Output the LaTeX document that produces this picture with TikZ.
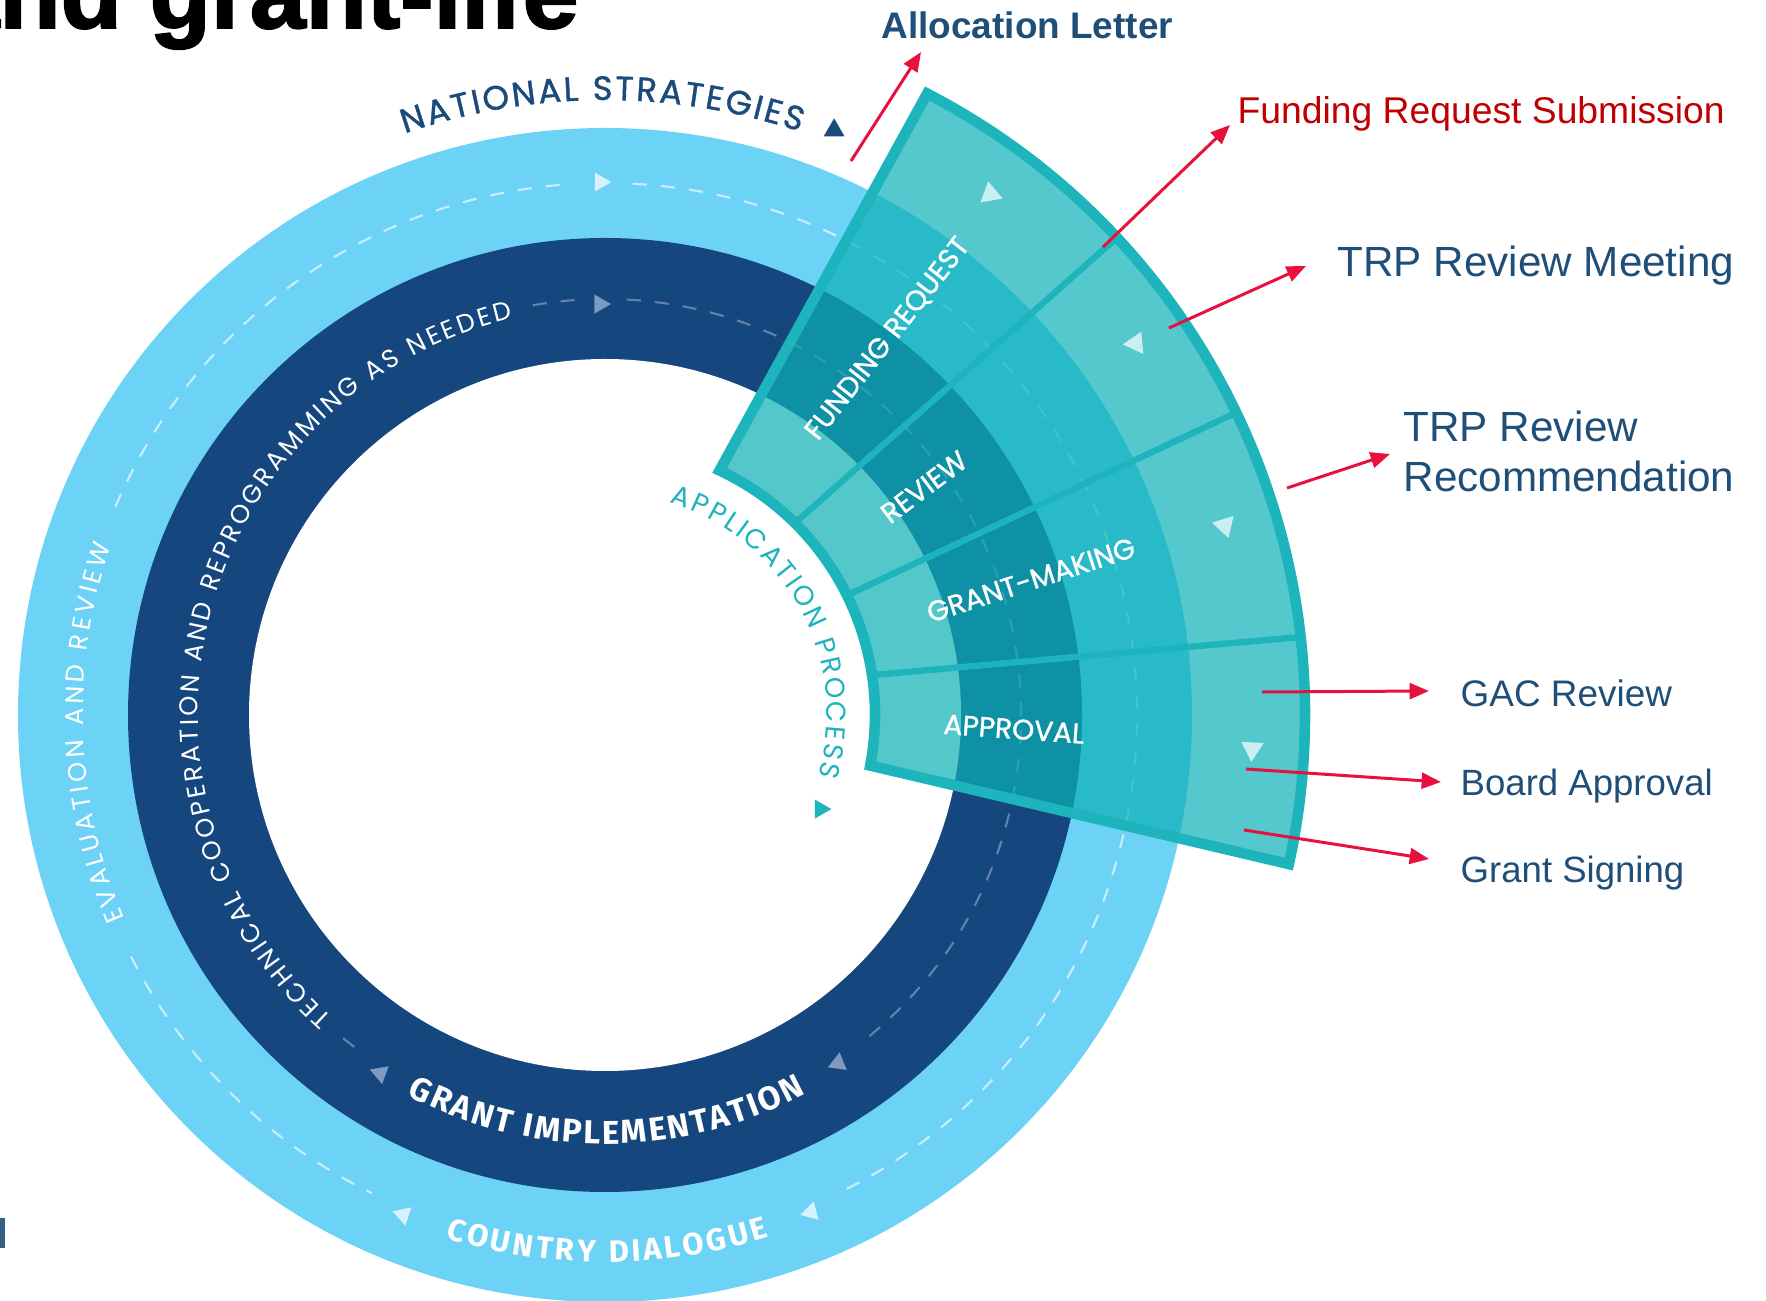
\documentclass[tikz,border=0pt]{standalone}
\usepackage{fontspec}
\setmainfont{Liberation Sans}
\newfontfamily\ringfont{Poppins}
\newfontfamily\medfont[FakeBold=1.2]{Poppins}
\newfontfamily\dinfont{Fira Sans}
\newfontfamily\headfont[FakeBold=2]{Liberation Sans Bold}
\usetikzlibrary{positioning,shapes,calc,arrows.meta,decorations.text}
\definecolor{ringsky}{HTML}{6DD3F6}
\definecolor{ringnavy}{HTML}{15467E}
\definecolor{skydash}{HTML}{C9EEFB}
\definecolor{navydash}{HTML}{6482AC}
\definecolor{skymark}{HTML}{D6F2FC}
\definecolor{navymark}{HTML}{8099BE}
\definecolor{fanteal}{HTML}{0CB0B6}
\definecolor{fanedge}{HTML}{1DB4BC}
\definecolor{fanmark}{HTML}{CBEFF1}
\definecolor{labelnavy}{HTML}{1B4A7C}
\definecolor{apteal}{HTML}{1EB4BC}
\definecolor{calloutblue}{HTML}{1F4E79}
\definecolor{calloutred}{HTML}{C00000}
\definecolor{arrowred}{HTML}{E8113D}
\newcommand{\nsfont}{\medfont\fontsize{9.6pt}{11pt}\selectfont}
\newcommand{\thinfont}{\ringfont\fontsize{7.3pt}{9pt}\selectfont}
\newcommand{\apfont}{\ringfont\fontsize{7.8pt}{9pt}\selectfont}
\newcommand{\implfont}{\dinfont\bfseries\fontsize{9.4pt}{11pt}\selectfont}
\newcommand{\dialfont}{\dinfont\bfseries\fontsize{8.8pt}{10pt}\selectfont}
% angle, radius, apex direction, size, colour
\newcommand{\ringmark}[5]{\fill[#5] ($(O)+(#1:#2)+(#3:#4)$) -- ($(O)+(#1:#2)+(#3+120:#4)$) -- ($(O)+(#1:#2)+(#3+240:#4)$) -- cycle;}
% radius, start, end, font, colour, text
\newcommand{\arclabel}[6]{\path[decorate,decoration={text along path,text align=fit to path,text color=#5,text={|#4|#6}}] ($(O)+(#2:#1)$) arc[start angle=#2,end angle=#3,radius=#1];}

\begin{document}
\begin{tikzpicture}[x=0.01cm,y=0.01cm]
    \tikzstyle{callout} = [font=\fontsize{10.5pt}{12.6pt}\selectfont,text=calloutblue,anchor=west,inner sep=0pt]
    \tikzstyle{stage} = [font=\medfont\fontsize{8pt}{9pt}\selectfont,text=white,inner sep=0pt]
    \tikzstyle{pointer} = [draw=arrowred,line width=0.85pt,-{Triangle[length=5.5pt,width=4.5pt]}]
    \tikzstyle{skyline} = [draw=skydash,line width=0.6pt,dash pattern=on 4pt off 4pt]
    \tikzstyle{navyline} = [draw=navydash,line width=0.6pt,dash pattern=on 4pt off 4pt]
    \useasboundingbox (0,-1301) rectangle (1766,0);
    \clip (0,-1301) rectangle (1766,0);
      \coordinate (O) at (605,-715);
      \node[anchor=base west,inner sep=0pt,font=\headfont\fontsize{28.5pt}{30pt}\selectfont] (heading) at (-57,-28) {and grant-life};
      \fill[calloutblue!90] (0,-1218) rectangle (5,-1248);
      \fill[ringsky] (O) circle (587);
      \fill[ringnavy] (O) circle (477);
      \fill[white] (O) circle (356);
      \foreach \a/\b in {157/94,87/-64,207/244} \draw[skyline] ($(O)+(\a:532)$) arc[start angle=\a,end angle=\b,radius=532];
      \foreach \a/\b in {100/94,87/-52,231/234.5} \draw[navyline] ($(O)+(\a:416)$) arc[start angle=\a,end angle=\b,radius=416];
      \ringmark{90.5}{533}{0}{11}{skymark}
      \ringmark{90.7}{411}{0}{11}{navymark}
      \ringmark{248}{539}{-78}{11}{skymark}
      \ringmark{292.5}{538}{195}{11}{skymark}
      \ringmark{237.9}{423}{-80}{11}{navymark}
      \ringmark{303.8}{419}{82}{11}{navymark}
      \ringmark{68.6}{628}{90}{12}{labelnavy}
      \arclabel{615}{109}{71.5}{\nsfont}{labelnavy}{NATIONAL STRATEGIES}
      \arclabel{522}{203}{161}{\thinfont}{white}{EVALUATION AND REVIEW}
      \arclabel{407}{228}{103}{\thinfont}{white}{TECHNICAL COOPERATION AND REPROGRAMMING AS NEEDED}
      \arclabel{429}{242.5}{298}{\implfont}{white}{GRANT IMPLEMENTATION}
      \arclabel{547}{253}{287.5}{\dialfont}{white}{COUNTRY DIALOGUE}
      \arclabel{222}{73}{-16}{\apfont}{apteal}{APPLICATION PROCESS}
      \ringmark{-23.6}{235}{0}{11}{apteal}
      \path[fill=fanteal,fill opacity=0.7,draw=fanedge,line width=3pt] ($(O)+(-10.8:270)$) -- ($(O)+(-12.3:700)$) arc[start angle=-12.3,end angle=62.6,radius=700] -- ($(O)+(64.9:270)$) arc[start angle=64.9,end angle=-10.8,radius=270] -- cycle;
      \foreach \a/\b in {45.3/43,26.3/25.6,8.5/6.4} \draw[fanedge,line width=1.8pt] ($(O)+(\a:270)$) -- ($(O)+(\b:700)$);
      \ringmark{53.5}{648}{100}{13}{fanmark}
      \ringmark{35}{648}{-55}{13}{fanmark}
      \ringmark{17}{648}{-73}{13}{fanmark}
      \ringmark{-3}{648}{-93}{13}{fanmark}
      \node[stage,rotate=52] (request) at (888,-339) {FUNDING REQUEST};
      \node[stage,rotate=37] (review) at (924,-487) {REVIEW};
      \node[stage,rotate=18] (making) at (1031,-580) {GRANT-MAKING};
      \node[stage,rotate=-4] (approval) at (1014,-729) {APPROVAL};
      \node[callout,font=\bfseries\fontsize{10.5pt}{12.6pt}\selectfont] (alloc) at (881,-25) {Allocation Letter};
      \node[callout,text=calloutred,font=\fontsize{10.6pt}{12.7pt}\selectfont] (submit) at (1237,-114) {Funding Request Submission};
      \node[callout,font=\fontsize{12pt}{14.2pt}\selectfont] (meeting) at (1337,-266) {TRP Review Meeting};
      \node[callout,align=left,font=\fontsize{12pt}{14.2pt}\selectfont] (recommend) at (1403,-451) {TRP Review\\Recommendation};
      \node[callout] (gac) at (1460,-693) {GAC Review};
      \node[callout,font=\fontsize{10.4pt}{12.5pt}\selectfont] (board) at (1460,-786) {Board Approval};
      \node[callout,font=\fontsize{10.4pt}{12.5pt}\selectfont] (signing) at (1460,-873) {Grant Signing};
      \coordinate (alloc-from) at (851,-161);
      \coordinate (submit-from) at (1103,-247);
      \coordinate (meeting-from) at (1169,-328);
      \coordinate (recommend-from) at (1287,-488);
      \coordinate (gac-from) at (1262,-692);
      \coordinate (board-from) at (1246,-769);
      \coordinate (signing-from) at (1244,-830);
      \coordinate (alloc-tip) at ($(alloc.west)+(40,-27)$);
      \coordinate (submit-tip) at ($(submit.west)+(-7,-11)$);
      \coordinate (meeting-tip) at ($(meeting.west)+(-31,0)$);
      \coordinate (recommend-tip) at ($(recommend.west)+(-13,-3)$);
      \coordinate (gac-tip) at ($(gac.west)+(-31,2)$);
      \coordinate (board-tip) at ($(board.west)+(-19,4)$);
      \coordinate (signing-tip) at ($(signing.west)+(-31,14)$);
      \foreach \n in {alloc,submit,meeting,recommend,gac,board,signing} \draw[pointer] (\n-from) -- (\n-tip);
  \end{tikzpicture}
\end{document}
